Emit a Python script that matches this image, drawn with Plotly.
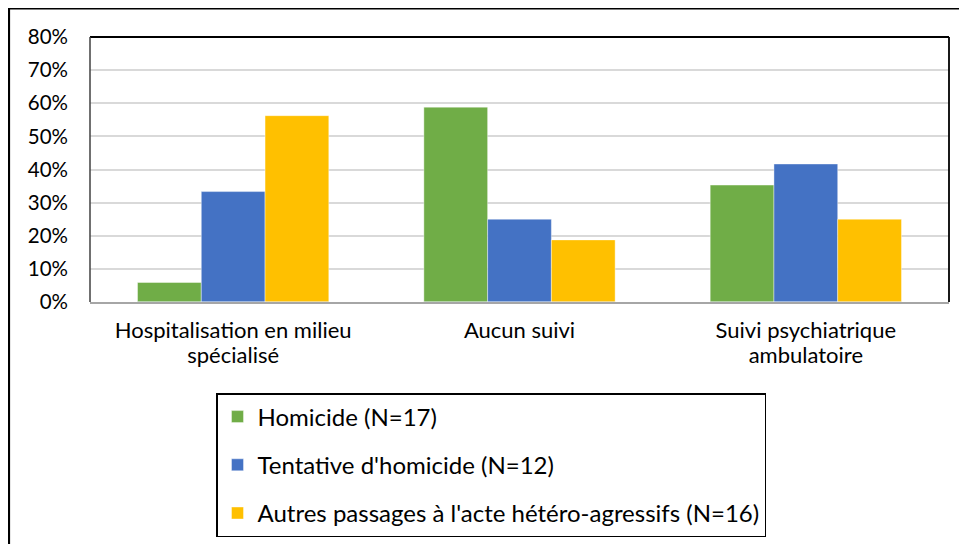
import plotly.graph_objects as go

categories = ["Hospitalisation en milieu spécialisé", "Aucun suivi", "Suivi psychiatrique ambulatoire"]
label_line1 = ["Hospitalisation en milieu", "Aucun suivi", "Suivi psychiatrique"]
label_line2 = ["spécialisé", "", "ambulatoire"]
series_names = ["Homicide (N=17)", "Tentative d'homicide (N=12)", "Autres passages à l'acte hétéro-agressifs (N=16)"]
homicide = [1/17, 10/17, 6/17]
tentative = [4/12, 3/12, 5/12]
autres = [9/16, 3/16, 4/16]
colors = ["#70AD47", "#4472C4", "#FFC000"]
y_ticks = [0, 0.1, 0.2, 0.3, 0.4, 0.5, 0.6, 0.7, 0.8]

# page body margin offset (browser default 8px)
O = 8
W, H = 967 - O, 544 - O
# plot area in screen pixels
L, R, T, B = 90, 949, 37, 302
pw, ph = R - L, B - T

def px(x):
    return (x - L) / pw

def py(y):
    return (B - y) / ph

pos = list(range(len(categories)))
FONT = "Lato"

fig = go.Figure()
for i, (name, vals) in enumerate(zip(series_names, [homicide, tentative, autres])):
    fig.add_trace(go.Bar(
        x=pos, y=vals, name=name, legendgroup=f"g{i}",
        marker=dict(color=colors[i], line=dict(color="rgba(255,255,255,0.5)", width=0.8)),
        hovertext=categories,
    ))
fig.add_trace(go.Bar(x=pos, y=[0, 0, 0], xaxis="x2", showlegend=False,
                     marker=dict(color="rgba(0,0,0,0)"), hoverinfo="skip"))

fig.update_layout(
    width=W, height=H,
    margin=dict(l=L - O, r=967 - R, t=T - O, b=544 - B, autoexpand=False),
    paper_bgcolor="white", plot_bgcolor="white",
    barmode="group", bargap=0.332, bargroupgap=0,
    font=dict(family=FONT, color="#000000", size=20),
    showlegend=True,
    legend=dict(
        x=px(216), y=py(393), xanchor="left", yanchor="top",
        bordercolor="#000000", borderwidth=1.5, bgcolor="white",
        font=dict(family=FONT, size=24, color="#000000"),
        tracegroupgap=14, itemwidth=30,
    ),
    xaxis=dict(
        range=[-0.5, 2.5], tickmode="array", tickvals=pos, ticktext=label_line1,
        showline=True, linecolor="#A6A6A6", linewidth=2, ticks="",
        showgrid=False, zeroline=False, tickfont=dict(size=22),
        ticklabelstandoff=8,
    ),
    xaxis2=dict(
        range=[-0.5, 2.5], overlaying="x", anchor="y", side="bottom", matches="x",
        tickmode="array", tickvals=pos, ticktext=label_line2,
        showline=False, ticks="", showgrid=False, zeroline=False,
        tickfont=dict(size=22), ticklabelstandoff=38,
    ),
    yaxis=dict(
        range=[0, 0.8], tickmode="array", tickvals=y_ticks, tickformat=".0%",
        showgrid=True, gridcolor="#D9D9D9", gridwidth=1.5, zeroline=False,
        showline=False, ticks="", tickfont=dict(size=20.5), ticklabelstandoff=21,
    ),
)

shapes = [
    dict(type="line", xref="paper", yref="paper", x0=0, x1=1, y0=1, y1=1, line=dict(color="#000000", width=1.8)),
    dict(type="line", xref="paper", yref="paper", x0=1, x1=1, y0=0, y1=1, line=dict(color="#000000", width=1.8)),
    dict(type="line", xref="paper", yref="paper", x0=0, x1=0, y0=0, y1=1, line=dict(color="#404040", width=1.5)),
    dict(type="rect", xref="paper", yref="paper", x0=px(9), x1=px(1000), y0=py(580), y1=py(8.5),
         line=dict(color="#000000", width=2.2), fillcolor="rgba(0,0,0,0)"),
]
fig.update_layout(shapes=shapes)

fig.write_html("out.html")
